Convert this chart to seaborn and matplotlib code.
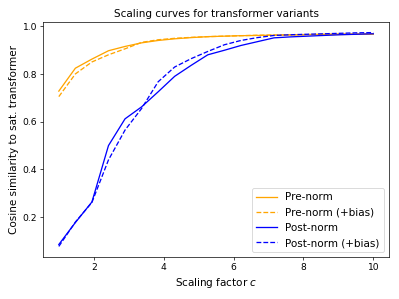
import numpy as np
import pandas as pd
import matplotlib
matplotlib.use("Agg")
import matplotlib.pyplot as plt
import seaborn as sns

# Scaling factors (20 evenly spaced points from 1 to 10)
scales = [1.000, 1.474, 1.947, 2.421, 2.895, 3.368, 3.842, 4.316, 4.789, 5.263,
          5.737, 6.211, 6.684, 7.158, 7.632, 8.105, 8.579, 9.053, 9.526, 10.000]

pre_norm = [0.728, 0.824, 0.862, 0.897, 0.915, 0.930, 0.940, 0.947, 0.952, 0.956,
            0.958, 0.960, 0.961, 0.962, 0.963, 0.964, 0.965, 0.965, 0.966, 0.966]
pre_norm_bias = [0.705, 0.800, 0.850, 0.880, 0.905, 0.932, 0.943, 0.949, 0.953, 0.956,
                 0.958, 0.960, 0.962, 0.963, 0.964, 0.965, 0.966, 0.967, 0.967, 0.968]
post_norm = [0.086, 0.178, 0.264, 0.500, 0.612, 0.662, 0.725, 0.790, 0.836, 0.880,
             0.899, 0.919, 0.935, 0.951, 0.955, 0.958, 0.961, 0.964, 0.966, 0.968]
post_norm_bias = [0.078, 0.180, 0.262, 0.440, 0.565, 0.655, 0.767, 0.829, 0.864, 0.894,
                  0.922, 0.940, 0.952, 0.961, 0.964, 0.966, 0.968, 0.970, 0.972, 0.973]

series = [
    ("Pre-norm", pre_norm, "orange", "-"),
    ("Pre-norm (+bias)", pre_norm_bias, "orange", "--"),
    ("Post-norm", post_norm, "blue", "-"),
    ("Post-norm (+bias)", post_norm_bias, "blue", "--"),
]


def main():
    fig, ax = plt.subplots(figsize=(6.4, 4.8), dpi=399 / 6.4)

    for name, vals, color, ls in series:
        df = pd.DataFrame({"c": scales, "sim": vals})
        sns.lineplot(data=df, x="c", y="sim", ax=ax, color=color,
                     linestyle=ls, label=name, linewidth=1.5)

    ax.set_title("Scaling curves for transformer variants", fontsize=12)
    ax.set_xlabel("Scaling factor $c$", fontsize=12)
    ax.set_ylabel("Cosine similarity to sat. transformer", fontsize=12)
    ax.tick_params(labelsize=10.5)
    ax.legend(loc="lower right", fontsize=12)

    fig.subplots_adjust(left=0.108, right=0.975, bottom=0.14, top=0.926)
    fig.savefig("out.png", dpi=399 / 6.4)
    plt.close(fig)


if __name__ == "__main__":
    main()
